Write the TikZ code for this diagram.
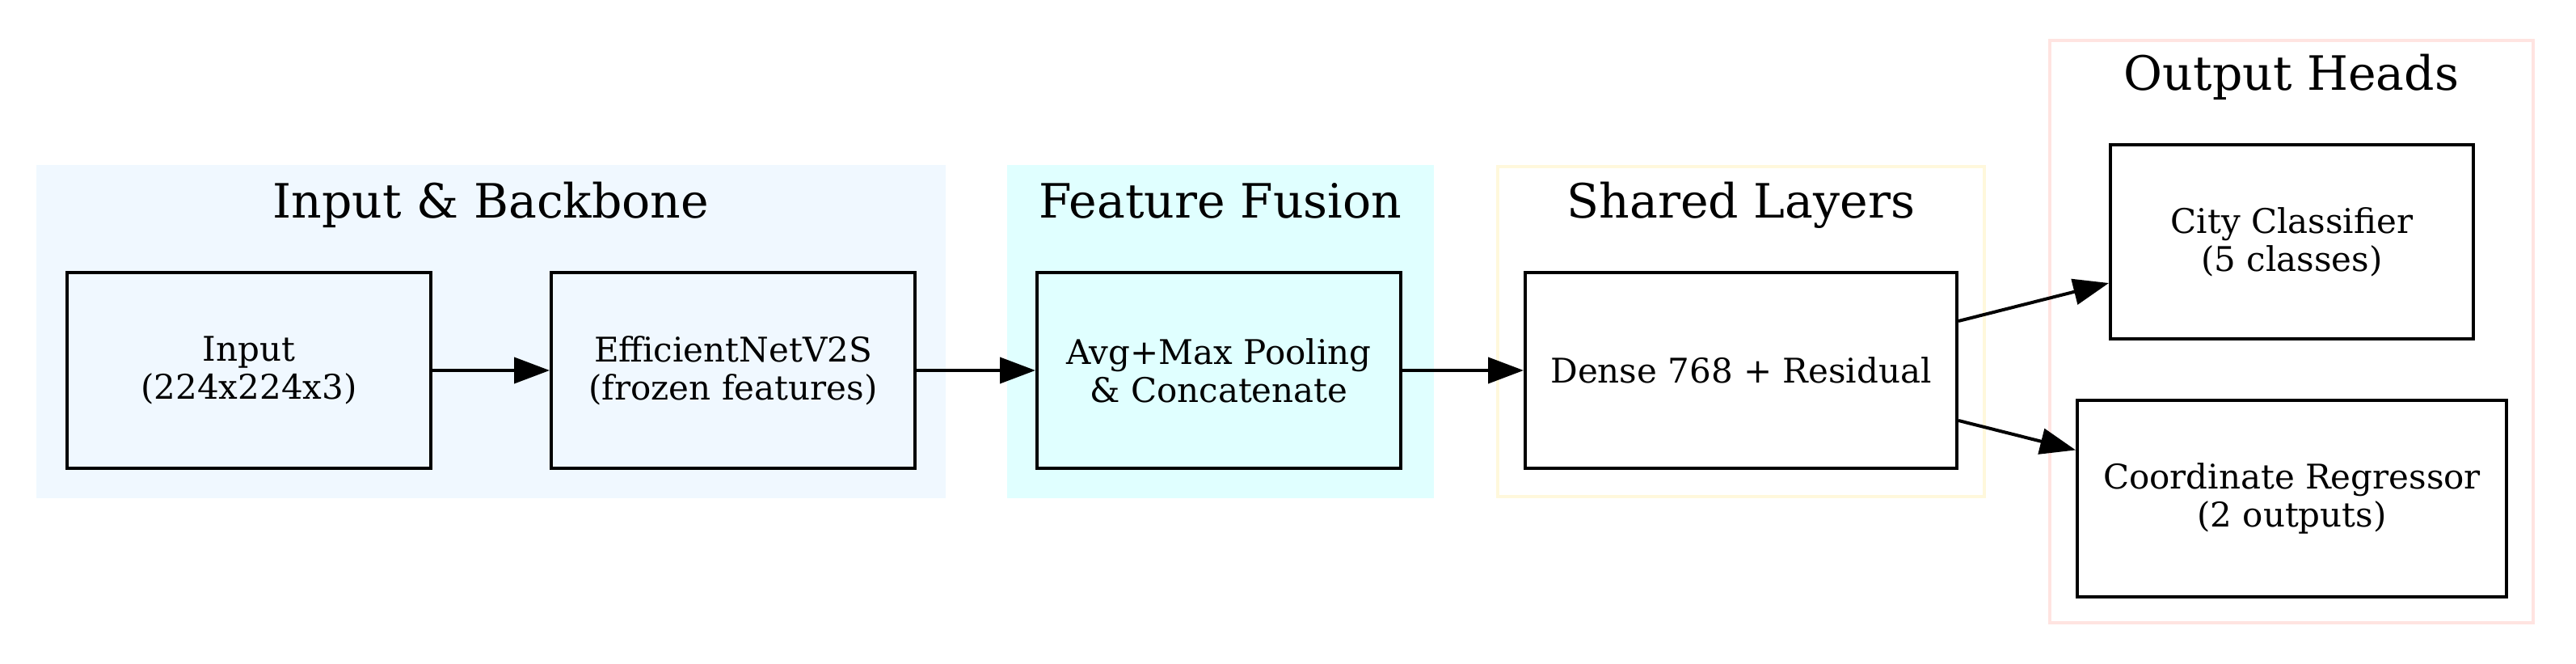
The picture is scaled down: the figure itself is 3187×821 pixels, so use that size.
\documentclass[tikz,border=0pt]{standalone}
\usepackage{fontspec}
\setmainfont{DejaVu Serif}
\usetikzlibrary{arrows.meta,calc}
\definecolor{aliceblue}{HTML}{F0F8FF}
\definecolor{lcyan}{HTML}{E0FFFF}
\definecolor{lyellow}{HTML}{FFF8DC}
\definecolor{mrose}{HTML}{FFE4E1}
\begin{document}
\begin{tikzpicture}[x=1pt,y=1pt,
  cluster/.style={rectangle, inner sep=0pt, line width=4pt},
  ctitle/.style={anchor=base, inner sep=0pt, font=\fontsize{58.5}{70}\selectfont},
  box/.style={rectangle, draw=black, line width=4pt, inner sep=0pt, align=center,
    font=\fontsize{42}{47}\selectfont},
  edge/.style={line width=4pt, -{Triangle[length=44pt,width=32pt]}}]
\useasboundingbox (0,0) rectangle (3187,821);
% clusters
\node[cluster, fill=aliceblue, draw=aliceblue, minimum width=1121pt, minimum height=408pt] (c1) at (607.5,411) {};
\node[cluster, fill=lcyan, draw=lcyan, minimum width=524pt, minimum height=408pt] (c2) at (1510,411) {};
\node[cluster, draw=lyellow, minimum width=602pt, minimum height=408pt] (c3) at (2154,411) {};
\node[cluster, draw=mrose, minimum width=598pt, minimum height=720pt] (c4) at (2835,411) {};
\node[ctitle] (t1) at ($(c1.north)+(0,-66)$) {Input \& Backbone};
\node[ctitle] (t2) at ($(c2.north)+(0,-66)$) {Feature Fusion};
\node[ctitle] (t3) at ($(c3.north)+(0,-66)$) {Shared Layers};
\node[ctitle] (t4) at ($(c4.north)+(0,-64)$) {Output Heads};
% nodes
\node[box, fill=aliceblue, minimum width=450pt, minimum height=242pt] (inp) at (308,363) {Input\\(224x224x3)};
\node[box, fill=aliceblue, minimum width=450pt, minimum height=242pt] (eff) at (907,363) {EfficientNetV2S\\(frozen features)};
\node[box, fill=lcyan, minimum width=450pt, minimum height=242pt] (pool) at (1508,363) {Avg+Max Pooling\\\& Concatenate};
\node[box, fill=white, minimum width=534pt, minimum height=242pt] (dense) at (2154,363) {Dense 768 + Residual};
\node[box, fill=white, minimum width=449pt, minimum height=240pt] (city) at (2835.5,522) {City Classifier\\(5 classes)};
\node[box, fill=white, minimum width=531pt, minimum height=243pt] (coord) at (2835.5,204.5) {Coordinate Regressor\\(2 outputs)};
% edges
\draw[edge] (inp) -- (eff);
\draw[edge] (eff) -- (pool);
\draw[edge] (pool) -- (dense);
\draw[edge] ($(dense.east)+(0,61)$) -- ($(city.west)+(0,-51)$);
\draw[edge] ($(dense.east)+(0,-62)$) -- ($(coord.west)+(0,60)$);
\end{tikzpicture}
\end{document}
